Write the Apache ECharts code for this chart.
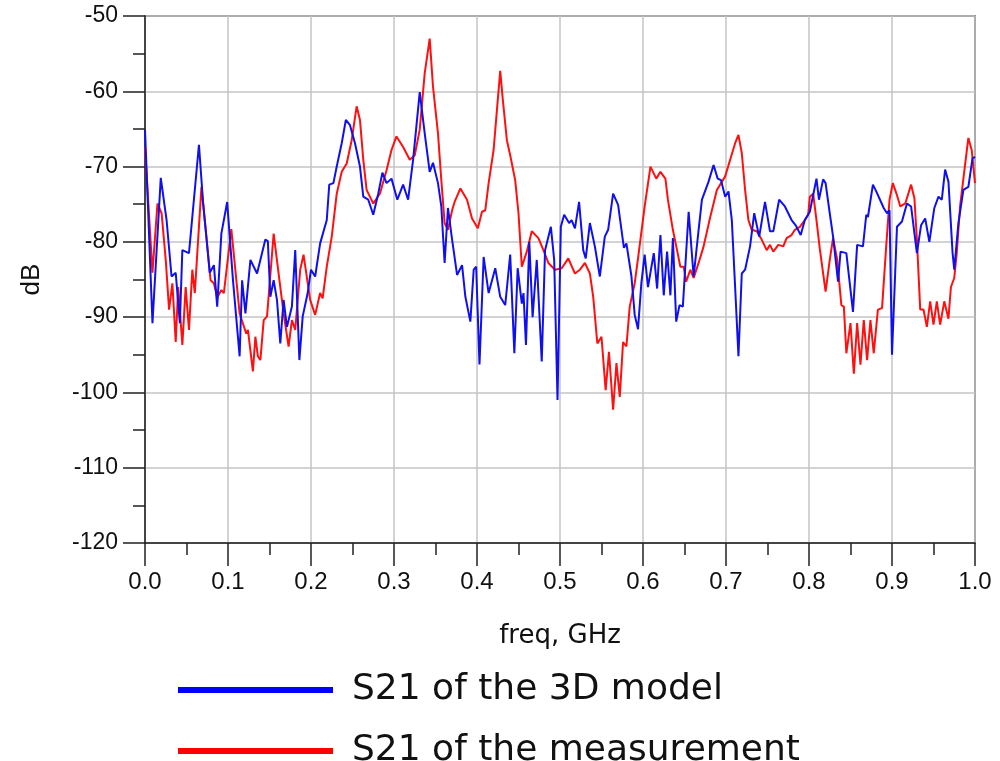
<!DOCTYPE html>
<html lang="en">
  <head>
    <meta charset="UTF-8" />
    <title>S21</title>
    <script src="https://cdn.jsdelivr.net/npm/echarts@6/dist/echarts.min.js"></script>
  </head>
  <style>
    body,
    html {
      margin: 0;
      height: 100%;
      background: #fff;
    }
  </style>
  <body>
    <div id="chart" style="width:1000px;height:761px"></div>
  </body>
  <script>
    // freq in GHz, S21 in dB
    var modelFreq = [
      0.000, 0.009, 0.019, 0.026, 0.032, 0.037, 0.042, 0.045, 0.053, 0.065,
      0.070, 0.078, 0.083, 0.087, 0.092, 0.099, 0.106, 0.114, 0.117, 0.121,
      0.127, 0.135, 0.145, 0.148, 0.151, 0.155, 0.159, 0.163, 0.167, 0.171,
      0.177, 0.181, 0.186, 0.190, 0.196, 0.200, 0.205, 0.211, 0.219, 0.222,
      0.227, 0.231, 0.237, 0.242, 0.247, 0.253, 0.259, 0.263, 0.269, 0.275,
      0.281, 0.286, 0.291, 0.297, 0.304, 0.311, 0.317, 0.323, 0.331, 0.337,
      0.343, 0.347, 0.353, 0.357, 0.361, 0.365, 0.370, 0.376, 0.382, 0.386,
      0.392, 0.396, 0.399, 0.403, 0.408, 0.414, 0.422, 0.428, 0.434, 0.440,
      0.445, 0.449, 0.454, 0.456, 0.459, 0.463, 0.467, 0.472, 0.478, 0.482,
      0.489, 0.493, 0.497, 0.501, 0.505, 0.511, 0.514, 0.518, 0.523, 0.528,
      0.531, 0.536, 0.542, 0.548, 0.554, 0.558, 0.564, 0.570, 0.577, 0.580,
      0.586, 0.590, 0.594, 0.598, 0.602, 0.606, 0.613, 0.617, 0.621, 0.625,
      0.629, 0.633, 0.636, 0.640, 0.644, 0.648, 0.655, 0.661, 0.667, 0.671,
      0.679, 0.685, 0.690, 0.694, 0.699, 0.703, 0.707, 0.711, 0.715, 0.719,
      0.723, 0.729, 0.734, 0.740, 0.747, 0.753, 0.757, 0.764, 0.771, 0.779,
      0.784, 0.790, 0.795, 0.801, 0.809, 0.812, 0.817, 0.820, 0.825, 0.829,
      0.835, 0.838, 0.845, 0.853, 0.858, 0.865, 0.869, 0.871, 0.877, 0.881,
      0.883, 0.890, 0.894, 0.897, 0.900, 0.906, 0.912, 0.918, 0.923, 0.930,
      0.935, 0.940, 0.945, 0.951, 0.956, 0.960, 0.964, 0.968, 0.973, 0.975,
      0.980, 0.986, 0.992, 0.997, 1.000
    ];
    var modelDb = [
      -65.1, -90.8, -71.5, -77.1, -84.6, -84.1, -90.8, -81.1, -81.5, -67.1,
      -74.8, -84.1, -83.1, -88.6, -78.9, -74.7, -85.1, -95.2, -85.1, -89.5,
      -82.4, -84.2, -79.7, -79.9, -87.3, -85.1, -87.7, -93.5, -87.7, -91.3,
      -88.6, -81.1, -95.7, -89.9, -86.8, -83.7, -84.6, -80.2, -77.1, -72.4,
      -72.2, -70.0, -66.9, -63.8, -64.5, -66.9, -70.0, -74.0, -74.4, -76.4,
      -73.6, -70.8, -72.2, -71.6, -74.4, -72.4, -74.4, -69.1, -60.1, -65.6,
      -70.7, -69.5, -72.2, -75.3, -82.8, -75.5, -79.7, -84.4, -83.1, -87.3,
      -90.6, -83.7, -83.3, -96.3, -82.0, -86.8, -83.5, -87.3, -88.4, -81.7,
      -94.8, -83.5, -88.2, -86.8, -93.7, -80.0, -90.0, -82.4, -95.9, -81.1,
      -78.0, -82.4, -101.0, -78.0, -76.4, -77.5, -77.1, -78.2, -74.7, -81.1,
      -82.2, -77.5, -80.6, -84.6, -79.3, -78.4, -73.6, -75.1, -80.8, -80.2,
      -84.5, -89.7, -91.6, -85.5, -81.7, -86.0, -81.5, -86.2, -79.1, -87.1,
      -81.3, -87.1, -79.5, -90.6, -88.4, -88.6, -76.0, -84.6, -78.4, -74.4,
      -72.0, -69.8, -71.6, -71.8, -74.0, -73.3, -77.1, -86.0, -95.2, -84.2,
      -83.7, -80.6, -76.2, -79.3, -74.7, -78.6, -78.6, -74.4, -75.3, -77.1,
      -77.8, -79.1, -77.1, -76.0, -71.6, -74.4, -71.7, -72.2, -76.2, -79.3,
      -85.3, -81.3, -81.5, -89.3, -80.4, -80.6, -76.4, -76.7, -72.4, -73.3,
      -73.1, -75.5, -76.2, -75.8, -95.0, -78.0, -77.3, -74.9, -75.3, -81.5,
      -77.8, -76.9, -80.0, -75.5, -74.0, -74.4, -70.4, -72.0, -81.5, -83.7,
      -77.5, -73.1, -72.7, -68.9, -68.7
    ];

    var measFreq = [
      0.000, 0.009, 0.015, 0.020, 0.025, 0.029, 0.033, 0.037, 0.040, 0.045,
      0.049, 0.053, 0.057, 0.060, 0.068, 0.073, 0.079, 0.083, 0.087, 0.092,
      0.095, 0.104, 0.114, 0.122, 0.124, 0.130, 0.133, 0.136, 0.139, 0.143,
      0.147, 0.155, 0.163, 0.167, 0.173, 0.177, 0.181, 0.187, 0.191, 0.199,
      0.205, 0.211, 0.214, 0.219, 0.225, 0.231, 0.237, 0.243, 0.249, 0.255,
      0.259, 0.263, 0.267, 0.275, 0.283, 0.291, 0.297, 0.303, 0.311, 0.319,
      0.325, 0.331, 0.337, 0.343, 0.347, 0.353, 0.357, 0.361, 0.365, 0.370,
      0.373, 0.380, 0.388, 0.394, 0.401, 0.406, 0.410, 0.414, 0.420, 0.424,
      0.428, 0.431, 0.436, 0.440, 0.446, 0.450, 0.454, 0.460, 0.466, 0.474,
      0.480, 0.486, 0.494, 0.502, 0.510, 0.518, 0.524, 0.530, 0.536, 0.540,
      0.545, 0.550, 0.555, 0.559, 0.564, 0.568, 0.572, 0.576, 0.580, 0.584,
      0.590, 0.594, 0.602, 0.609, 0.616, 0.621, 0.627, 0.630, 0.636, 0.641,
      0.645, 0.649, 0.652, 0.657, 0.661, 0.667, 0.673, 0.681, 0.689, 0.699,
      0.705, 0.711, 0.715, 0.719, 0.723, 0.727, 0.731, 0.737, 0.743, 0.749,
      0.753, 0.757, 0.763, 0.769, 0.773, 0.779, 0.783, 0.789, 0.795, 0.799,
      0.801, 0.805, 0.809, 0.813, 0.820, 0.825, 0.829, 0.834, 0.839, 0.842,
      0.845, 0.850, 0.854, 0.858, 0.862, 0.866, 0.870, 0.874, 0.878, 0.883,
      0.888, 0.893, 0.897, 0.901, 0.906, 0.910, 0.916, 0.923, 0.927, 0.930,
      0.934, 0.938, 0.942, 0.946, 0.950, 0.954, 0.958, 0.963, 0.968, 0.971,
      0.975, 0.978, 0.982, 0.987, 0.992, 0.996, 1.000
    ];
    var measDb = [
      -67.4, -84.1, -74.9, -76.2, -82.4, -89.0, -85.5, -93.3, -86.0, -93.7,
      -86.0, -91.7, -83.7, -86.8, -72.7, -78.2, -85.1, -85.5, -87.4, -86.4,
      -86.8, -78.3, -89.5, -92.2, -91.7, -97.2, -92.6, -95.2, -95.7, -90.4,
      -89.9, -78.9, -86.0, -89.5, -93.9, -90.4, -91.7, -83.7, -81.7, -87.7,
      -89.7, -86.8, -87.5, -83.3, -79.3, -73.6, -70.7, -69.6, -66.5, -62.0,
      -63.8, -69.1, -73.1, -74.9, -73.6, -70.5, -67.8, -66.0, -67.4, -69.1,
      -68.5, -65.1, -57.6, -53.0, -59.4, -65.6, -71.8, -77.5, -78.4, -75.8,
      -74.7, -72.9, -74.4, -76.9, -78.2, -76.0, -75.8, -72.2, -67.8, -62.5,
      -57.3, -61.0, -66.5, -68.5, -71.8, -76.2, -83.3, -81.3, -78.6, -79.5,
      -81.1, -82.8, -83.7, -83.5, -82.2, -84.2, -83.7, -82.8, -84.2, -87.3,
      -93.5, -92.6, -99.7, -94.6, -102.3, -96.1, -100.6, -93.3, -93.9, -88.6,
      -85.5, -82.2, -75.3, -70.0, -71.6, -70.7, -71.6, -74.4, -78.4, -81.1,
      -83.3, -83.3, -85.3, -83.7, -84.8, -82.8, -80.6, -76.7, -73.1, -71.3,
      -69.1, -66.9, -65.8, -68.2, -73.1, -77.1, -78.4, -78.6, -79.7, -81.1,
      -80.4, -81.3, -80.4, -80.6, -79.5, -79.1, -78.4, -78.0, -77.1, -76.4,
      -74.0, -73.6, -77.1, -80.9, -86.6, -82.4, -79.5, -82.4, -88.4, -88.6,
      -94.8, -90.8, -97.5, -90.8, -96.3, -90.4, -95.7, -90.4, -94.8, -89.0,
      -88.8, -80.6, -74.4, -72.2, -73.8, -75.3, -74.9, -72.4, -74.2, -79.7,
      -89.0, -89.0, -91.3, -87.9, -91.0, -87.9, -91.0, -87.9, -90.2, -86.0,
      -84.8, -81.5, -75.3, -70.7, -66.2, -67.8, -72.2
    ];

    var seriesNames = ["S21 of the 3D model", "S21 of the measurement"];

    function pairs(xs, ys) {
      return xs.map(function(x, i) {
        return [x, ys[i]];
      });
    }

    // one legend box per row, stacked like the original
    function legendRow(name, top) {
      return {
        data: [name],
        left: 178,
        top: top,
        padding: 0,
        itemWidth: 155,
        itemHeight: 6,
        icon: "rect",
        selectedMode: false,
        textStyle: {
          fontFamily: "DejaVu Sans",
          fontSize: 36,
          color: "#111",
          padding: [0, 0, 8, 14]
        }
      };
    }

    var option = {
      backgroundColor: "#fff",
      animation: false,
      grid: {
        left: 145,
        right: 25,
        top: 16,
        bottom: 218,
        show: true,
        borderColor: "#333",
        borderWidth: 1.5
      },
      legend: [legendRow(seriesNames[0], 672), legendRow(seriesNames[1], 733)],
      xAxis: {
        type: "value",
        min: 0,
        max: 1,
        interval: 0.1,
        name: "freq, GHz",
        nameLocation: "middle",
        nameGap: 80,
        nameTextStyle: {
          fontFamily: "DejaVu Sans",
          fontSize: 26,
          color: "#111"
        },
        axisLine: { lineStyle: { color: "#222", width: 1.5 } },
        axisTick: { length: 23, lineStyle: { color: "#222", width: 1.5 } },
        minorTick: {
          show: true,
          splitNumber: 2,
          length: 12,
          lineStyle: { color: "#222", width: 1.5 }
        },
        axisLabel: {
          margin: 27,
          fontFamily: "Liberation Sans",
          fontSize: 24,
          color: "#111",
          formatter: function(v) {
            return v.toFixed(1);
          }
        },
        splitLine: { lineStyle: { color: "#c4c4c4", width: 1.5 } }
      },
      yAxis: {
        type: "value",
        min: -120,
        max: -50,
        interval: 10,
        name: "dB",
        nameLocation: "middle",
        nameGap: 100,
        nameRotate: 90,
        nameTextStyle: {
          fontFamily: "Liberation Sans",
          fontSize: 26,
          color: "#111"
        },
        axisLine: { show: true, lineStyle: { color: "#222", width: 1.5 } },
        axisTick: { length: 22, lineStyle: { color: "#222", width: 1.5 } },
        minorTick: {
          show: true,
          splitNumber: 2,
          length: 12,
          lineStyle: { color: "#222", width: 1.5 }
        },
        axisLabel: {
          margin: 27,
          fontFamily: "Liberation Sans",
          fontSize: 23,
          color: "#111"
        },
        splitLine: { lineStyle: { color: "#c4c4c4", width: 1.5 } }
      },
      series: [
        {
          name: seriesNames[1],
          type: "line",
          data: pairs(measFreq, measDb),
          showSymbol: false,
          symbol: "none",
          color: "#ff0000",
          lineStyle: { color: "#ff1010", width: 2 }
        },
        {
          name: seriesNames[0],
          type: "line",
          data: pairs(modelFreq, modelDb),
          showSymbol: false,
          symbol: "none",
          color: "#0000ff",
          lineStyle: { color: "#1010ee", width: 2 }
        }
      ]
    };

    var chart = echarts.init(document.querySelector("#chart"));
    chart.setOption(option);
  </script>
</html>
